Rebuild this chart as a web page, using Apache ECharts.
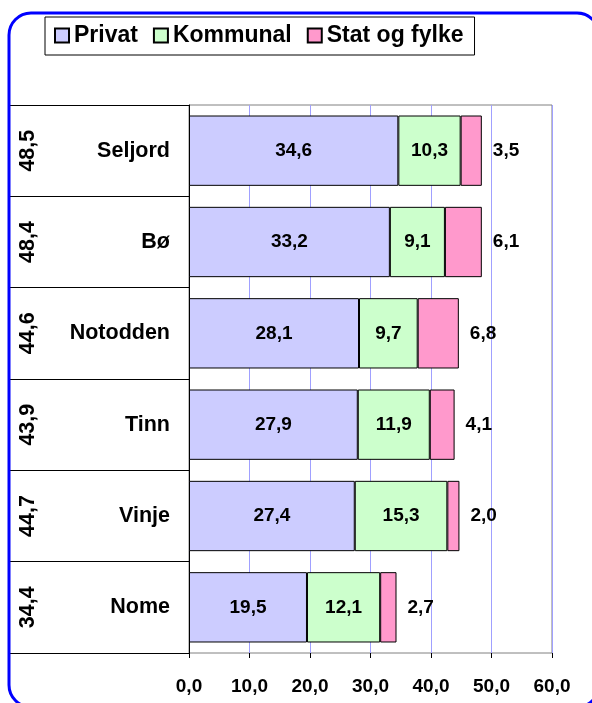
<!DOCTYPE html>
<html>
<head>
<meta charset="utf-8">
<title>Telemark</title>
<script src="https://cdn.jsdelivr.net/npm/echarts@6/dist/echarts.min.js"></script>
<style>
  body{margin:0;background:#fff;}
  #chart{width:592px;height:703px;}
</style>
</head>
<body>
<div id="chart"></div>
<script>
// 数据
var categories = ['Seljord', 'Bø', 'Notodden', 'Tinn', 'Vinje', 'Nome'];
var privat = [34.6, 33.2, 28.1, 27.9, 27.4, 19.5];
var kommunal = [10.3, 9.1, 9.7, 11.9, 15.3, 12.1];
var statFylke = [3.5, 6.1, 6.8, 4.1, 2.0, 2.7];
var totals = ['48,5', '48,4', '44,6', '43,9', '44,7', '34,4'];
var xMin = 0, xMax = 60, xStep = 10;

var font = 'Liberation Sans, Arial, sans-serif';

function komma(v){
    return Number(v).toFixed(1).replace('.', ',');
}

var myChart = echarts.init(document.getElementById('chart'))
option = {
    animation: false,
    textStyle: {fontFamily: font},
    graphic: [
        {   // 蓝色圆角边框
            type: 'rect',
            shape: {x: 9, y: 13, width: 590, height: 694, r: 22},
            style: {fill: 'none', stroke: '#0000FF', lineWidth: 3},
            z: 100
        }
    ],
    legend: {
        left: 45,
        top: 17,
        icon: 'rect',
        itemWidth: 14,
        itemHeight: 14,
        itemGap: 15,
        padding: [7, 11, 8, 9],
        borderColor: '#000',
        borderWidth: 1,
        backgroundColor: '#fff',
        textStyle: {fontSize: 23, fontWeight: 'bold', color: '#000', fontFamily: font},
        data: ['Privat', 'Kommunal', 'Stat og fylke']
    },
    grid: {
        left: 189,
        right: 40,
        top: 105,
        bottom: 50,
        show: true,
        borderColor: '#808080',
        borderWidth: 1,
        backgroundColor: '#fff'
    },
    xAxis: {
        type: 'value',
        min: xMin,
        max: xMax,
        interval: xStep,
        axisLine: {lineStyle: {color: '#000', width: 1}},
        axisTick: {show: true, length: 5, lineStyle: {color: '#000'}},
        splitLine: {lineStyle: {color: '#A0A0FF', width: 1}},
        axisLabel: {
            margin: 24,
            fontSize: 19,
            fontWeight: 'bold',
            color: '#000',
            fontFamily: font,
            formatter: komma
        }
    },
    yAxis: [
        {   // 名称
            type: 'category',
            inverse: true,
            data: categories,
            axisLine: {lineStyle: {color: '#000', width: 1}},
            axisTick: {show: true, length: 179, lineStyle: {color: '#000'}},
            axisLabel: {
                margin: 19,
                fontSize: 21.5,
                fontWeight: 'bold',
                color: '#000',
                fontFamily: font
            }
        },
        {   // 合计 (竖排)
            type: 'category',
            inverse: true,
            position: 'left',
            data: totals,
            axisLine: {show: false},
            axisTick: {show: false},
            axisLabel: {
                rotate: 90,
                margin: 150,
                fontSize: 21.5,
                fontWeight: 'bold',
                color: '#000',
                fontFamily: font
            }
        }
    ],
    series: [
        {
            name: 'Privat',
            type: 'bar',
            stack: 'total',
            barCategoryGap: '23%',
            itemStyle: {color: '#CCCCFF', borderColor: '#000', borderWidth: 1},
            label: {show: true, position: 'inside', fontSize: 19, fontWeight: 'bold', color: '#000', formatter: function(p){return komma(p.value)}},
            data: privat
        },
        {
            name: 'Kommunal',
            type: 'bar',
            stack: 'total',
            itemStyle: {color: '#CCFFCC', borderColor: '#000', borderWidth: 1},
            label: {show: true, position: 'inside', fontSize: 19, fontWeight: 'bold', color: '#000', formatter: function(p){return komma(p.value)}},
            data: kommunal
        },
        {
            name: 'Stat og fylke',
            type: 'bar',
            stack: 'total',
            itemStyle: {color: '#FF99CC', borderColor: '#000', borderWidth: 1},
            label: {show: true, position: 'right', distance: 11, fontSize: 19, fontWeight: 'bold', color: '#000', formatter: function(p){return komma(p.value)}},
            data: statFylke
        }
    ]
};
myChart.setOption(option)
</script>
</body>
</html>
